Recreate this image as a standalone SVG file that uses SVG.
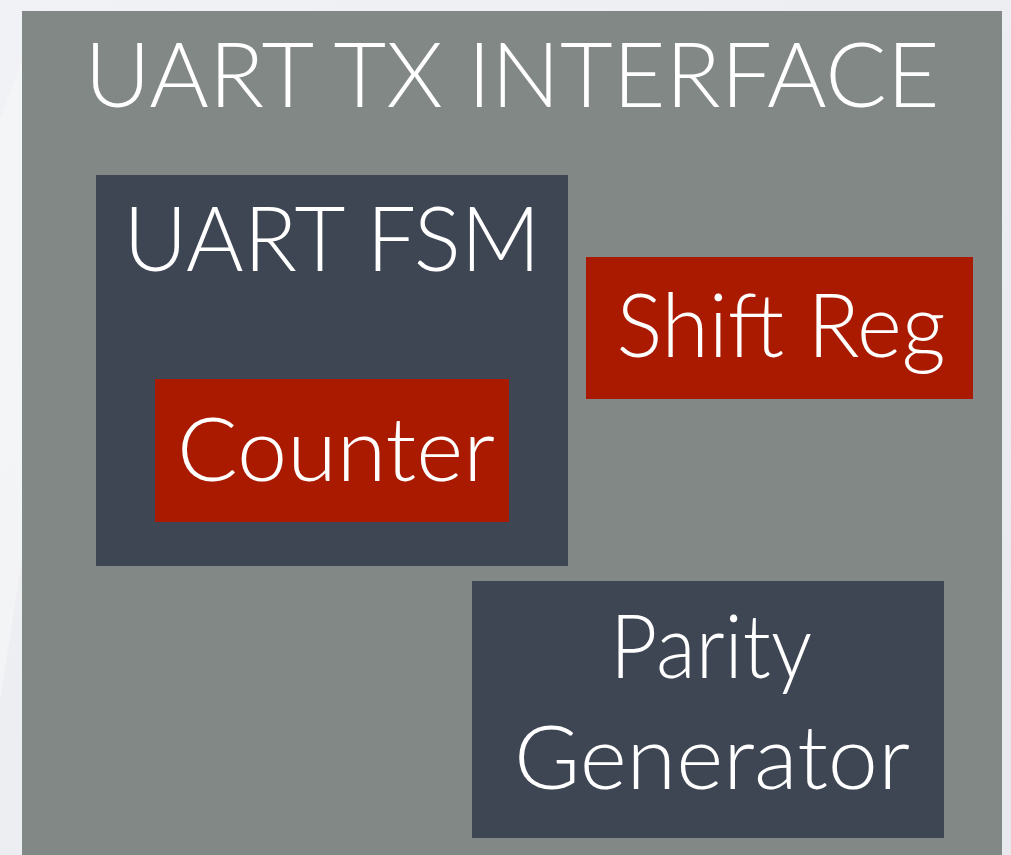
<svg xmlns="http://www.w3.org/2000/svg" width="1011" height="855" viewBox="0 0 1011 855">
  <style>
    .frame { fill: #828886; }
    .block { fill: #3e4553; }
    .unit { fill: #aa1a00; }
    .label { fill: #ffffff; font-family: Lato, "Open Sans", "Liberation Sans", sans-serif; font-weight: 300; text-anchor: middle; }
  </style>
  <defs>
    <linearGradient id="bg" x1="0" y1="0" x2="1" y2="1">
      <stop offset="0" stop-color="#f1f2f5"/>
      <stop offset="1" stop-color="#e8e9ed"/>
    </linearGradient>
  </defs>

  <!-- page background -->
  <rect x="0" y="0" width="1011" height="855" fill="url(#bg)"/>
  <polygon points="0,120 22,60 22,560 0,700" fill="#f5f6f8" opacity="0.7"/>

  <!-- outer interface container -->
  <g id="uart-tx-interface">
    <rect class="frame" x="22" y="11" width="980" height="844"/>
    <text class="label" x="512" y="107" font-size="90" textLength="855" lengthAdjust="spacingAndGlyphs">UART TX INTERFACE</text>
  </g>

  <g id="uart-fsm">
    <rect class="block" x="96" y="175" width="472" height="391"/>
    <text class="label" x="332" y="271" font-size="90" textLength="417" lengthAdjust="spacingAndGlyphs">UART FSM</text>
  </g>

  <g id="counter">
    <rect class="unit" x="155" y="379" width="354" height="143"/>
    <text class="label" x="336" y="481" font-size="88" textLength="318" lengthAdjust="spacingAndGlyphs">Counter</text>
  </g>

  <g id="shift-reg">
    <rect class="unit" x="586" y="257" width="387" height="142"/>
    <text class="label" x="781" y="357" font-size="88" textLength="329" lengthAdjust="spacingAndGlyphs">Shift Reg</text>
  </g>

  <g id="parity-generator">
    <rect class="block" x="472" y="581" width="472" height="257"/>
    <text class="label" x="711" y="678" font-size="88" textLength="202" lengthAdjust="spacingAndGlyphs">Parity</text>
    <text class="label" x="712" y="789" font-size="88" textLength="396" lengthAdjust="spacingAndGlyphs">Generator</text>
  </g>

  <g id="connectors"/>
</svg>
